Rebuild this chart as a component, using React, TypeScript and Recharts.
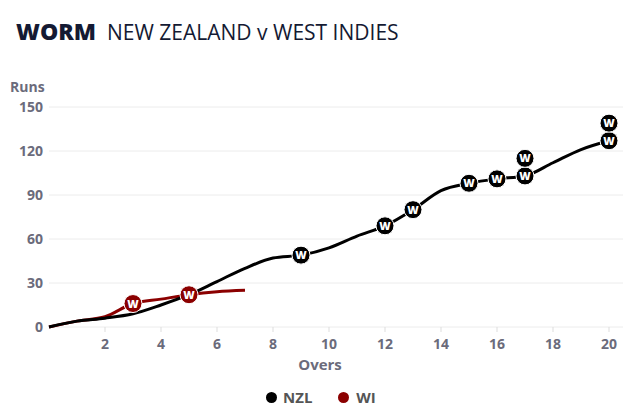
import React from "react";
import { ComposedChart, Line, Scatter, XAxis, YAxis, CartesianGrid } from "recharts";

const nzlOvers = [0, 1, 2, 3, 4, 5, 6, 7, 8, 9, 10, 11, 12, 13, 14, 15, 16, 17, 18, 19, 20];
const nzlRuns = [0, 4, 6, 9, 15, 22, 31, 40, 47, 49, 54, 62, 69, 80, 93, 98, 101, 103, 112, 121, 127];
const wiOvers = [0, 1, 2, 3, 4, 5, 6, 7];
const wiRuns = [0, 4, 7, 16, 19, 22, 24, 25];
const nzlWicketOvers = [9, 12, 13, 15, 16, 17, 17, 20, 20];
const nzlWicketRuns = [49, 69, 80, 98, 101, 103, 115, 127, 139];
const wiWicketOvers = [3, 5];
const wiWicketRuns = [16, 22];
const xTicks = [2, 4, 6, 8, 10, 12, 14, 16, 18, 20];
const yTicks = [0, 30, 60, 90, 120, 150];

const NZL_COLOR = "#000000";
const WI_COLOR = "#8b0000";
const TEXT_GRAY = "#6b6b7b";
const FONT = "'Open Sans', 'Noto Sans', sans-serif";

const nzlData = nzlOvers.map((o, i) => ({ over: o, runs: nzlRuns[i] }));
const wiData = wiOvers.map((o, i) => ({ over: o, runs: wiRuns[i] }));
const nzlWickets = nzlWicketOvers.map((o, i) => ({ over: o, runs: nzlWicketRuns[i] }));
const wiWickets = wiWicketOvers.map((o, i) => ({ over: o, runs: wiWicketRuns[i] }));

const makeWicket = (fill: string) => (props: any) => {
  const { cx, cy } = props;
  return (
    <g>
      <circle cx={cx} cy={cy} r={9} fill={fill} stroke="#ffffff" strokeWidth={1} />
      <text
        x={cx}
        y={cy + 4}
        textAnchor="middle"
        fill="#ffffff"
        fontSize={11}
        fontWeight={800}
        fontFamily={FONT}
      >
        W
      </text>
    </g>
  );
};

export default function App() {
  return (
    <div style={{ position: "absolute", left: 0, top: 0, width: 640, height: 417, background: "#fff", fontFamily: FONT }}>
      <div style={{ position: "absolute", left: 16, top: 16, whiteSpace: "nowrap", color: "#141a33", lineHeight: "30px" }}>
        <span style={{ fontWeight: 800, fontSize: 23, letterSpacing: 0 }}>WORM</span>
        <span style={{ fontWeight: 400, fontSize: 21, marginLeft: 11 }}>NEW ZEALAND v WEST INDIES</span>
      </div>
      <div style={{ position: "absolute", left: 10, top: 77, fontSize: 14, fontWeight: 700, color: TEXT_GRAY }}>Runs</div>
      <ComposedChart
        width={640}
        height={417}
        margin={{ top: 107, right: 17, bottom: 50, left: 0 }}
      >
        <CartesianGrid horizontal={true} vertical={false} stroke="#ececec" strokeWidth={1} />
        <XAxis
          dataKey="over"
          type="number"
          domain={[0, 20.5]}
          ticks={xTicks}
          allowDuplicatedCategory={false}
          axisLine={false}
          tickLine={{ stroke: "#dddddd" }}
          tickSize={5}
          tickMargin={7}
          height={40}
          tick={{ fill: TEXT_GRAY, fontSize: 14, fontWeight: 700, fontFamily: FONT }}
        />
        <YAxis
          dataKey="runs"
          type="number"
          domain={[0, 150]}
          ticks={yTicks}
          width={49}
          axisLine={false}
          tickLine={false}
          tickSize={6}
          tickMargin={0}
          tick={{ fill: TEXT_GRAY, fontSize: 14, fontWeight: 700, fontFamily: FONT }}
        />
        <Line
          data={wiData}
          dataKey="runs"
          type="monotone"
          stroke={WI_COLOR}
          strokeWidth={3}
          dot={false}
          isAnimationActive={false}
        />
        <Line
          data={nzlData}
          dataKey="runs"
          type="monotone"
          stroke={NZL_COLOR}
          strokeWidth={3}
          dot={false}
          isAnimationActive={false}
        />
        <Scatter data={nzlWickets} dataKey="runs" shape={makeWicket(NZL_COLOR)} isAnimationActive={false} />
        <Scatter data={wiWickets} dataKey="runs" shape={makeWicket(WI_COLOR)} isAnimationActive={false} />
      </ComposedChart>
      <div style={{ position: "absolute", left: 295, top: 354, width: 50, textAlign: "center", fontSize: 15, fontWeight: 700, color: TEXT_GRAY }}>Overs</div>
      <div style={{ position: "absolute", left: 266, top: 387, display: "flex", alignItems: "center", fontSize: 15, fontWeight: 700, color: "#555" }}>
        <span style={{ display: "inline-block", width: 11, height: 11, borderRadius: "50%", background: NZL_COLOR, marginRight: 6 }} />
        <span>NZL</span>
        <span style={{ display: "inline-block", width: 11, height: 11, borderRadius: "50%", background: WI_COLOR, marginLeft: 26, marginRight: 7 }} />
        <span>WI</span>
      </div>
    </div>
  );
}
